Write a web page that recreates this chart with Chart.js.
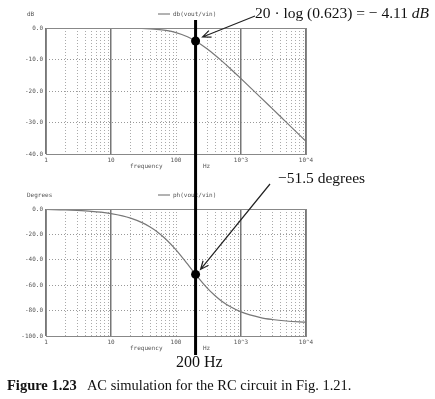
<!DOCTYPE html>
<html>
<head>
<meta charset="utf-8">
<script src="https://cdn.jsdelivr.net/npm/chart.js@4.4.1/dist/chart.umd.min.js"></script>
<style>
  body { margin: 0; background: #fff; }
  #wrap { position: relative; width: 435px; height: 399px; overflow: hidden; background: #fff; }
  canvas { position: absolute; left: 0; }
  .serif { position: absolute; font-family: "Liberation Serif", "DejaVu Serif", serif; color: #111; white-space: nowrap; }
</style>
</head>
<body>
<div id="wrap">
  <canvas id="magChart" width="435" height="180" style="top:0"></canvas>
  <canvas id="phChart" width="435" height="175" style="top:180px"></canvas>
  <div class="serif" style="left:255px;top:4px;font-size:15.5px">20 · log (0.623) = − 4.11 <i>dB</i></div>
  <div class="serif" style="left:278px;top:169px;font-size:15.5px">−51.5 degrees</div>
  <div class="serif" style="left:176px;top:353px;font-size:16px">200 Hz</div>
  <div class="serif" style="left:7px;top:377px;font-size:14.5px"><b>Figure 1.23</b>&nbsp;&nbsp; AC simulation for the RC circuit in Fig. 1.21.</div>
</div>
<script>
// values
const freqs = [1, 2, 3, 5, 7, 10, 15, 20, 30, 40, 50, 70, 100, 150, 200, 300, 400, 500, 700, 1000, 2000, 3000, 5000, 10000];
const magDb = [0, -0.01, -0.01, -0.01, -0.01, -0.02, -0.04, -0.07, -0.15, -0.27, -0.41, -0.77, -1.45, -2.77, -4.11, -6.59, -8.65, -10.37, -13.09, -16.08, -22.02, -25.53, -29.96, -35.97];
const phaseDeg = [-0.4, -0.7, -1.1, -1.8, -2.5, -3.6, -5.4, -7.2, -10.7, -14.1, -17.5, -23.8, -32.2, -43.3, -51.5, -62.1, -68.3, -72.4, -77.2, -81.0, -85.5, -87.0, -88.2, -89.1];
const markFreq = 200;
const markDb = -4.11;
const markPh = -51.5;
const decadeLabels = { 1: '1', 10: '10', 100: '100', 1000: '10^3', 10000: '10^4' };
const solidDecades = [1, 10, 1000, 10000];

const smallFont = { family: 'DejaVu Sans Mono', size: 6 };
const inkGray = '#555';

function points(ys) {
  return freqs.map((f, i) => ({ x: f, y: ys[i] }));
}

function isSolid(ctx) {
  return ctx.tick && solidDecades.includes(ctx.tick.value);
}

function arrow(c, x1, y1, x2, y2) {
  const a = Math.atan2(y2 - y1, x2 - x1);
  c.beginPath();
  c.moveTo(x1, y1);
  c.lineTo(x2, y2);
  c.moveTo(x2 - 9 * Math.cos(a - 0.4), y2 - 9 * Math.sin(a - 0.4));
  c.lineTo(x2, y2);
  c.lineTo(x2 - 9 * Math.cos(a + 0.4), y2 - 9 * Math.sin(a + 0.4));
  c.stroke();
}

const decorate = {
  id: 'decorate',
  afterDraw(chart, args, o) {
    const c = chart.ctx;
    const a = chart.chartArea;
    const xs = chart.scales.x, ys = chart.scales.y;
    c.save();
    // frame
    c.strokeStyle = '#888';
    c.lineWidth = 1;
    c.setLineDash([]);
    c.strokeRect(a.left + 0.5, a.top + 0.5, a.right - a.left, a.bottom - a.top);
    // small labels
    c.fillStyle = inkGray;
    c.font = '6px "DejaVu Sans Mono"';
    c.textBaseline = 'middle';
    c.fillText(o.yLabel, a.left - 19, a.top - 14);
    c.fillText('frequency', a.left + 84, a.bottom + 12);
    c.fillText('Hz', a.left + 157, a.bottom + 12);
    c.fillText(o.legend, a.left + 127, a.top - 14);
    c.strokeStyle = '#666';
    c.beginPath();
    c.moveTo(a.left + 112, a.top - 14);
    c.lineTo(a.left + 124, a.top - 14);
    c.stroke();
    // 200 Hz marker line
    const px = xs.getPixelForValue(markFreq);
    const py = ys.getPixelForValue(o.markY);
    c.strokeStyle = '#000';
    c.lineWidth = 3;
    c.beginPath();
    c.moveTo(px, o.lineTop);
    c.lineTo(px, chart.height);
    c.stroke();
    c.fillStyle = '#000';
    c.beginPath();
    c.arc(px, py, 4.5, 0, Math.PI * 2);
    c.fill();
    // annotation arrow
    c.lineWidth = 1.2;
    c.strokeStyle = '#222';
    arrow(c, o.tail[0], o.tail[1], px + o.headOff[0], py + o.headOff[1]);
    c.restore();
  }
};

function makeChart(id, ys, yMin, yMax, yStep, extra) {
  return new Chart(document.getElementById(id), {
    type: 'line',
    data: {
      datasets: [{
        data: points(ys),
        borderColor: '#777',
        borderWidth: 1.2,
        pointRadius: 0,
        cubicInterpolationMode: 'monotone',
        fill: false
      }]
    },
    options: {
      responsive: false,
      animation: false,
      events: [],
      layout: { padding: { top: extra.padTop, right: 129, left: 0, bottom: 0 } },
      plugins: { legend: { display: false }, tooltip: { enabled: false }, decorate: extra },
      scales: {
        x: {
          type: 'logarithmic', min: 1, max: 10000,
          afterBuildTicks(s) { s.ticks = s.ticks.filter(t => !/^15/.test(String(t.value))); },
          afterFit(s) { s.height = extra.xAxisH; },
          grid: {
            color: ctx => isSolid(ctx) ? '#777' : '#aaa',
            lineWidth: ctx => isSolid(ctx) ? 1.5 : 1,
            drawTicks: false
          },
          border: { display: false, dash: ctx => isSolid(ctx) ? [] : [1, 2] },
          ticks: {
            autoSkip: false, maxRotation: 0, padding: 3,
            color: inkGray, font: smallFont,
            callback: v => decadeLabels[v] || ''
          }
        },
        y: {
          min: yMin, max: yMax,
          afterFit(s) { s.width = 46; },
          grid: { color: '#999', drawTicks: false },
          border: { display: false, dash: [1, 2] },
          ticks: {
            stepSize: yStep, padding: 3,
            color: inkGray, font: smallFont,
            callback: v => v.toFixed(1)
          }
        }
      }
    },
    plugins: [decorate]
  });
}

makeChart('magChart', magDb, -40, 0, 10, {
  padTop: 28, xAxisH: 26, yLabel: 'dB', legend: 'db(vout/vin)',
  markY: markDb, lineTop: 20, tail: [255, 16], headOff: [7, -4]
});
makeChart('phChart', phaseDeg, -100, 0, 20, {
  padTop: 29, xAxisH: 19, yLabel: 'Degrees', legend: 'ph(vout/vin)',
  markY: markPh, lineTop: 0, tail: [270, 4], headOff: [5, -5]
});
</script>
</body>
</html>
